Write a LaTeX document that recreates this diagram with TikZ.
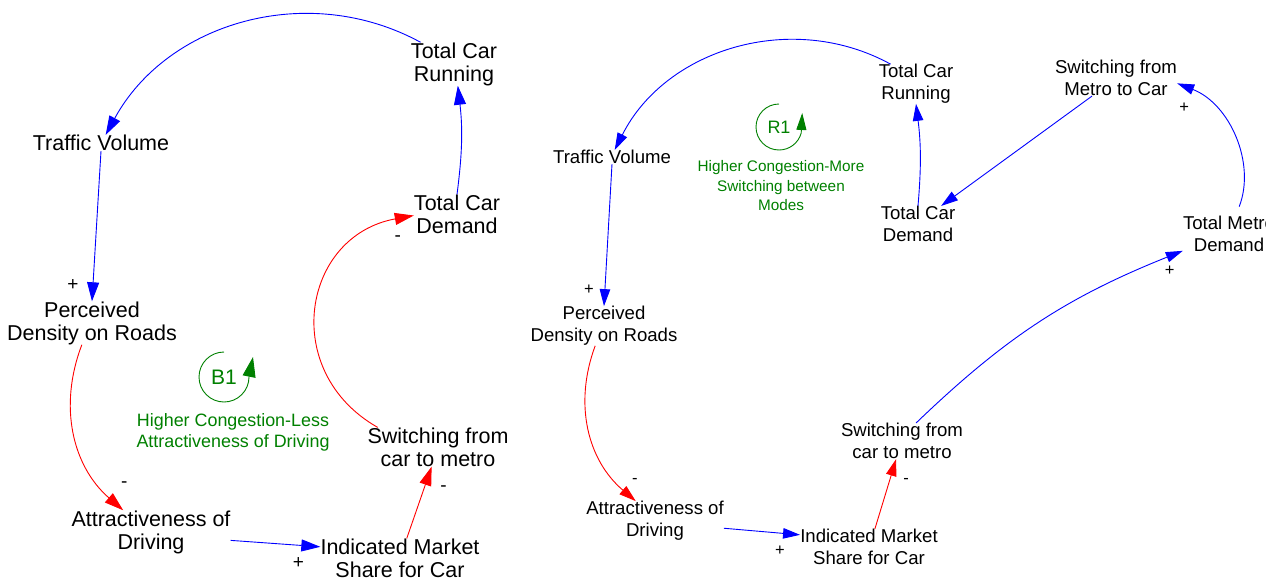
\documentclass[tikz,border=0pt]{standalone}
\usepackage{fontspec}
\setmainfont{Liberation Sans}
\usetikzlibrary{arrows.meta}
\definecolor{loopgreen}{RGB}{0,128,0}

\begin{document}
\begin{tikzpicture}[x=1pt, y=-1pt,
  varA/.style={align=center, inner sep=0pt, font=\fontsize{21.5}{23}\selectfont},
  varB/.style={align=center, inner sep=0pt, font=\fontsize{18.6}{22}\selectfont},
  polA/.style={inner sep=0pt, text=black, font=\fontsize{19}{19}\selectfont},
  polB/.style={inner sep=0pt, text=black, font=\fontsize{16.5}{16.5}\selectfont},
  posA/.style={blue, line width=0.9pt, -{Triangle[length=19pt, width=12pt]}},
  negA/.style={posA, red},
  posB/.style={blue, line width=0.9pt, -{Triangle[length=17pt, width=10.5pt]}},
  negB/.style={posB, red},
  loopsym/.style={loopgreen, line width=0.9pt},
  note/.style={align=center, inner sep=0pt, text=loopgreen}]
\path[use as bounding box] (0,0) rectangle (1278,581);
\clip (0,0) rectangle (1265,581);

\node[varA] (runL) at (454,64) {Total Car\\Running};
\node[varA] (tvL) at (101,143) {Traffic Volume};
\node[varA] (demL) at (457,214) {Total Car\\Demand};
\node[varA] (perL) at (92,323) {Perceived\\Density on Roads};
\node[varA] (attL) at (151,532) {Attractiveness of\\Driving};
\node[varA] (indL) at (400,558) {Indicated Market\\Share for Car};
\node[varA] (swL) at (438,447) {Switching from\\car to metro};

\draw[posA] (runL.147) to[bend right=45] (tvL.60);
\draw[posA] (tvL.south) -- (perL.north) node[polA, pos=1, xshift=-19pt, yshift=16pt] (pL1) {+};
\draw[posA] (demL.north) to[bend right=7] (runL.-80);
\draw[negA] (perL.-115) to[bend right=35] node[polA, pos=1, xshift=1pt, yshift=26pt] (pL2) {-} (attL.142);
\draw[posA] (attL.-6) -- (indL.172) node[polA, pos=1, xshift=-22pt, yshift=-16pt] (pL3) {+};
\draw[negA] (indL.71) -- (swL.-108) node[polA, pos=1, xshift=12pt, yshift=-22pt] (pL4) {-};
\draw[negA] (swL.162) to[bend left=70, looseness=1.35] node[polA, pos=1, xshift=-16pt, yshift=-23pt] (pL5) {-} (demL.-178);

\node[text=loopgreen, inner sep=0pt, font=\fontsize{21}{21}\selectfont] (b1) at (224,377) {B1};
\draw[loopsym, -{Triangle[length=20pt, width=13pt]}] (b1.center) ++(0,-25) arc[start angle=-90, end angle=-360, radius=25] -- ++(4,-20);
\node[note, font=\fontsize{17.9}{21}\selectfont] (b1txt) at (233,432) {Higher Congestion-Less\\Attractiveness of Driving};

\node[varB] (runR) at (916,84) {Total Car\\Running};
\node[varB] (tvR) at (612,157) {Traffic Volume};
\node[varB] (demR) at (918,224) {Total Car\\Demand};
\node[varB] (smcR) at (1116,78) {Switching from\\Metro to Car};
\node[varB] (tmdR) at (1229,234) {Total Metro\\Demand};
\node[varB] (perR) at (604,326) {Perceived\\Density on Roads};
\node[varB] (attR) at (655,521) {Attractiveness of\\Driving};
\node[varB] (indR) at (869,547) {Indicated Market\\Share for Car};
\node[varB] (scmR) at (902,441) {Switching from\\car to metro};

\draw[posB] (runR.142) to[bend right=46] (tvR.69);
\draw[posB] (tvR.south) -- (perR.north) node[polB, pos=1, xshift=-15pt, yshift=16pt] (pR1) {+};
\draw[posB] (demR.north) to[bend right=6] (runR.south);
\draw[posB] (smcR.-143) -- (demR.38);
\draw[posB, shorten <=10pt] (tmdR.70) to[bend right=45] node[polB, pos=1, xshift=7pt, yshift=-24pt] (pR2) {+} (smcR.-5);
\draw[posB] (scmR.52) to[bend left=11] node[polB, pos=1, xshift=-13pt, yshift=-20pt] (pR3) {+} (tmdR.-160);
\draw[negB] (indR.72) -- (scmR.-108) node[polB, pos=1, xshift=10pt, yshift=-22pt] (pR4) {-};
\draw[posB] (attR.-6) -- (indR.170) node[polB, pos=1, xshift=-20pt, yshift=-16pt] (pR5) {+};
\draw[negB] (perR.-114) to[bend right=35] node[polB, pos=1, xshift=-1pt, yshift=20pt] (pR6) {-} (attR.134);

\node[text=loopgreen, inner sep=0pt, font=\fontsize{18}{18}\selectfont] (r1) at (779,127) {R1};
\draw[loopsym, -{Triangle[length=17pt, width=10pt]}] (r1.center) ++(0,-23) arc[start angle=-90, end angle=-345, radius=23] -- ++(1,-20);
\node[note, font=\fontsize{15.3}{19.5}\selectfont] (r1txt) at (781,186) {Higher Congestion-More\\Switching between\\Modes};
\end{tikzpicture}
\end{document}
